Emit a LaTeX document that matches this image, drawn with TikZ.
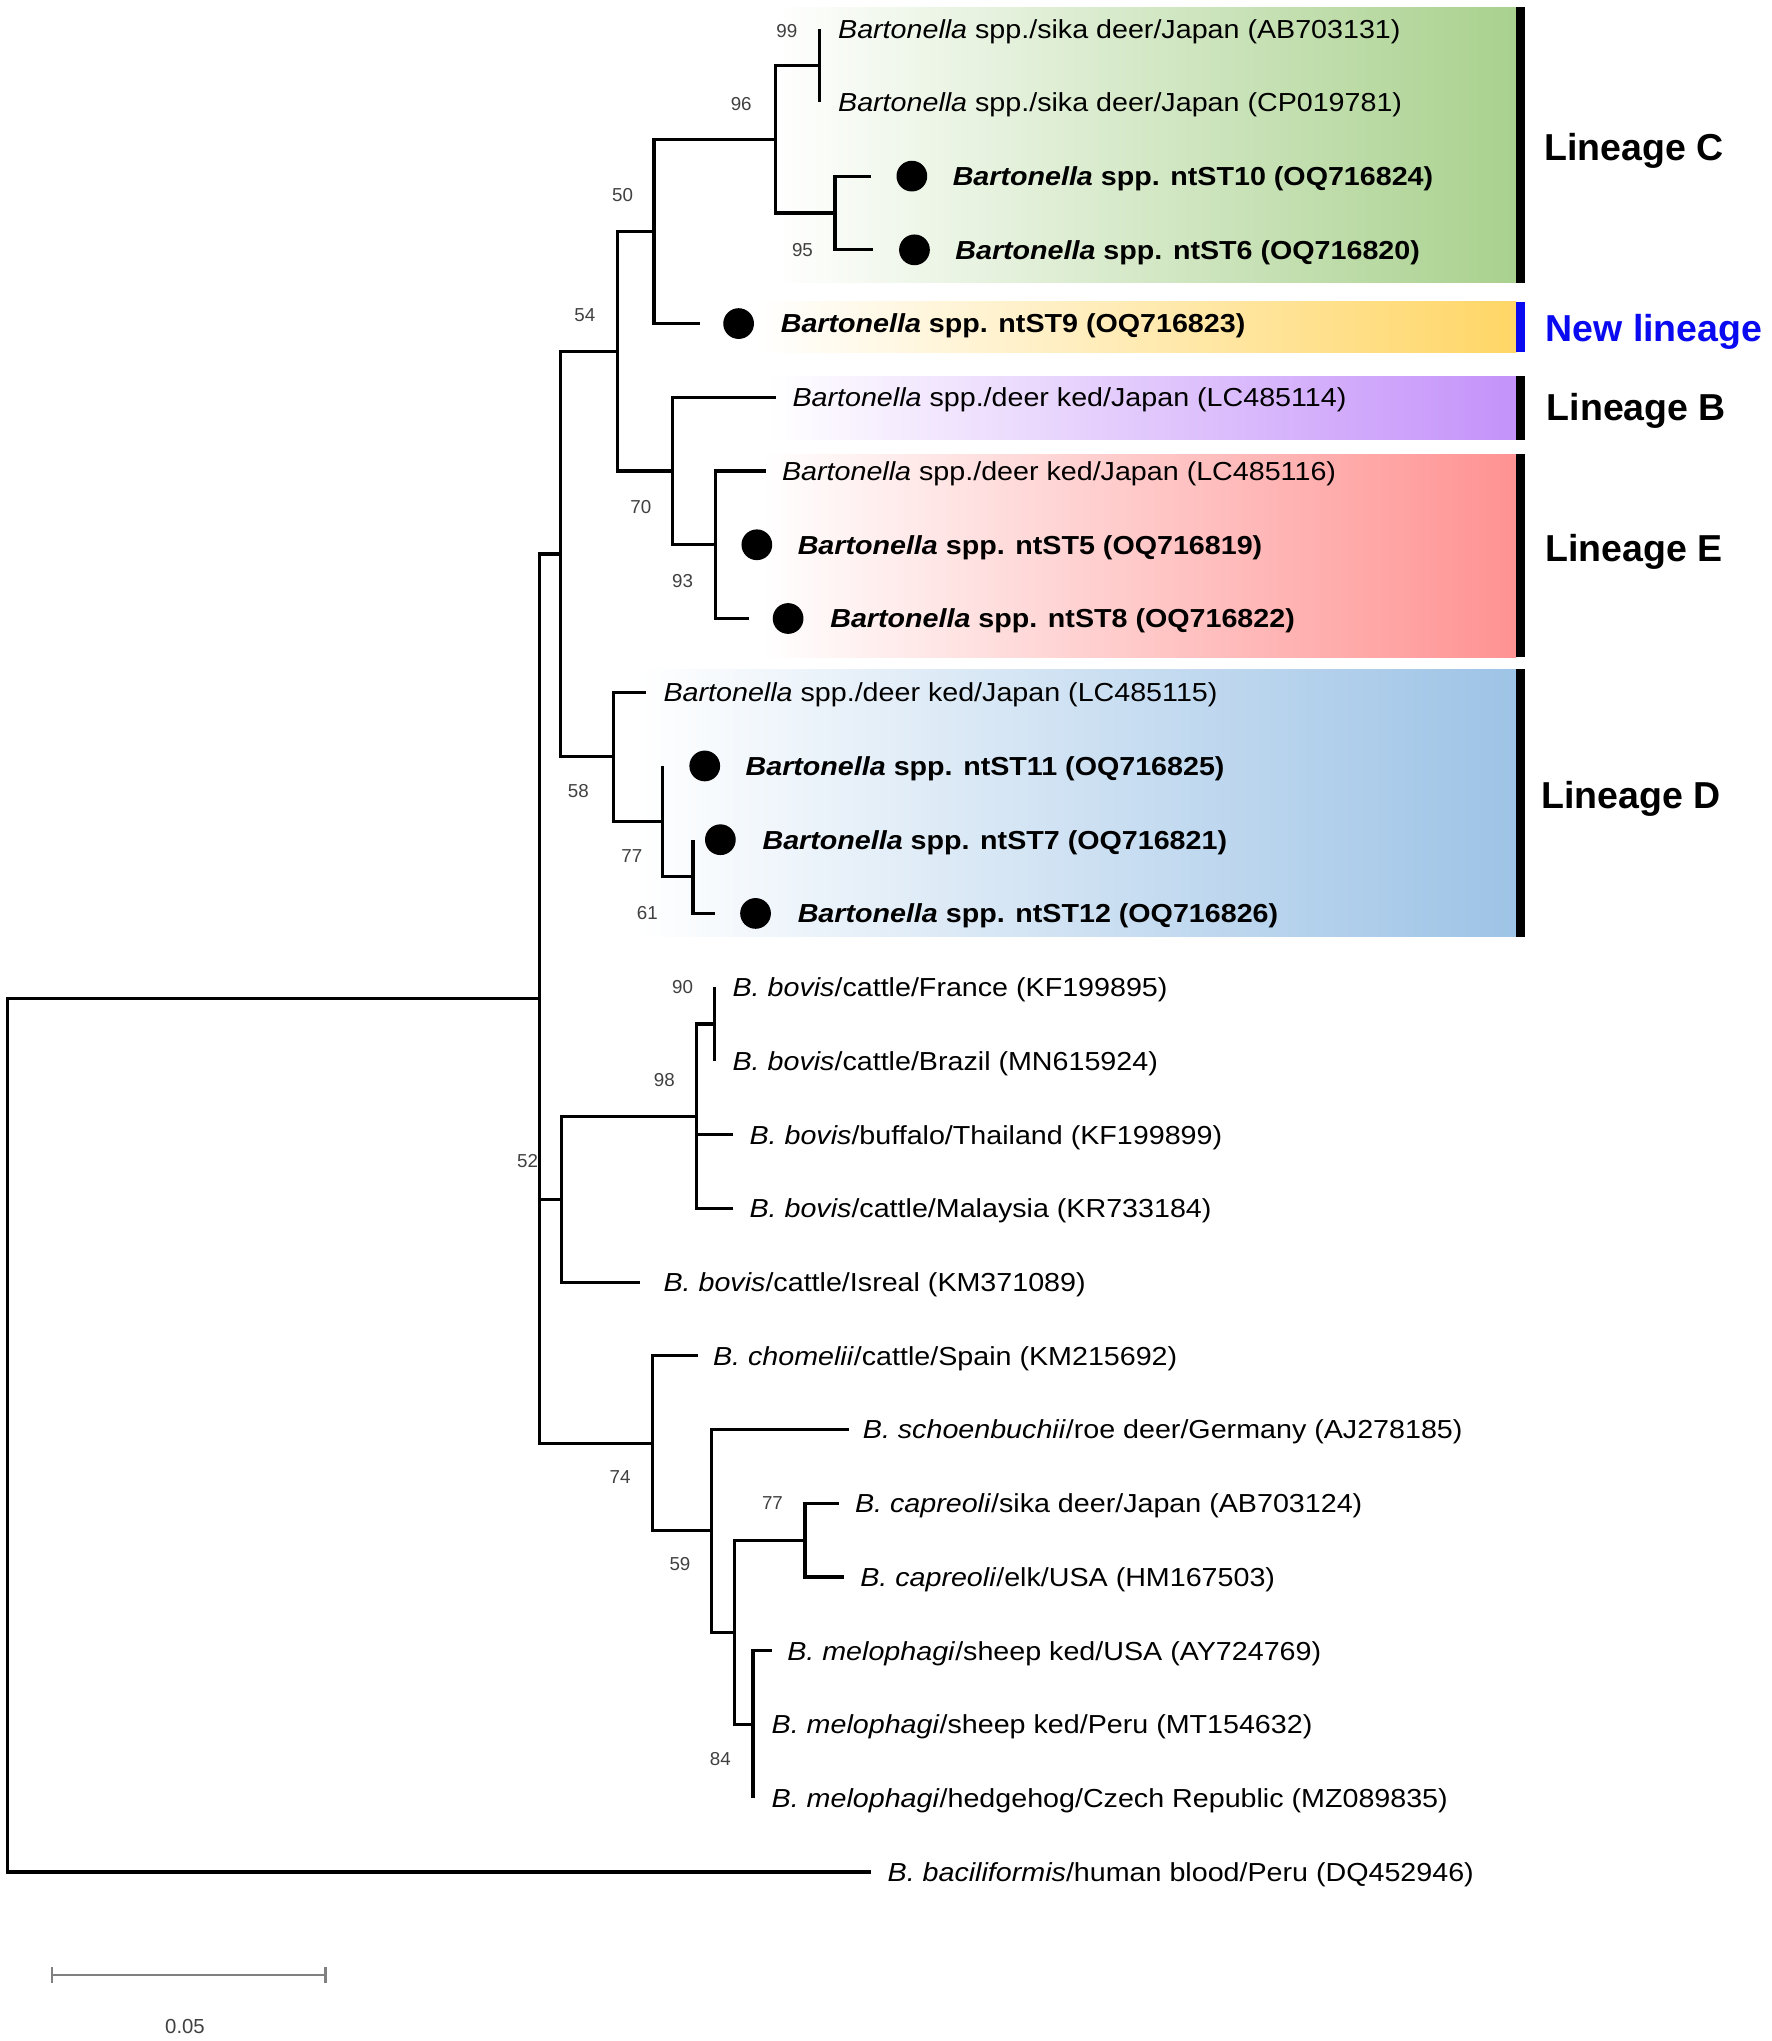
\documentclass[tikz,border=0pt]{standalone}
\usepackage{fontspec}
\setmainfont{Liberation Sans}
\newfontfamily\taxfont[FakeStretch=1.1]{Liberation Sans}
\definecolor{cC}{RGB}{169,209,142}
\definecolor{cN}{RGB}{255,214,102}
\definecolor{cB}{RGB}{196,146,250}
\definecolor{cE}{RGB}{255,146,146}
\definecolor{cD}{RGB}{157,195,230}
\definecolor{nblue}{RGB}{10,10,240}
\newcommand{\Bsp}{\textit{Bartonella}}
\begin{document}
\begin{tikzpicture}[x=0.5pt,y=-0.5pt,
  br/.style={line width=1.2pt, black},
  tax/.style={anchor=base west, inner sep=0pt, font=\taxfont\fontsize{10}{12}\selectfont},
  boot/.style={inner sep=0pt, font=\fontsize{7.2}{8}\selectfont, text=black!75},
  dot/.style={circle, fill=black, minimum size=11.8pt, inner sep=0pt},
  lin/.style={anchor=base west, inner sep=0pt, font=\bfseries\fontsize{14.4}{16}\selectfont},
  sbar/.style={line width=0.9pt, black!50}
]
\useasboundingbox (0,0) rectangle (1360.2,1566.8);

% ---------- coloured lineage boxes ----------
\shade[left color=white, right color=cC] (595,5.5) rectangle (1164,217);
\fill[black] (1164,5.5) rectangle (1171,217);
\shade[left color=white, right color=cN] (580,231.8) rectangle (1164,270.3);
\fill[nblue] (1164,231.8) rectangle (1171,270.3);
\shade[left color=white, right color=cB] (590,289) rectangle (1164,337.5);
\fill[black] (1164,289) rectangle (1171,337.5);
\shade[left color=white, right color=cE] (585,348.8) rectangle (1164,504.4);
\fill[black] (1164,348.8) rectangle (1171,504.4);
\shade[left color=white, right color=cD] (490,513.7) rectangle (1164,719);
\fill[black] (1164,513.7) rectangle (1171,719);

\node[lin] (lC) at (1185,123.3) {Lineage C};
\node[lin, text=nblue] (lN) at (1186,261.8) {New lineage};
\node[lin] (lB) at (1187,322.9) {Lineage B};
\node[lin] (lE) at (1186,431) {Lineage E};
\node[lin] (lD) at (1183,620.3) {Lineage D};

% ---------- internal nodes ----------
\coordinate (root) at (6,1100);
\coordinate (A) at (414,766.7);
\coordinate (B) at (430,425.3);
\coordinate (n54) at (474,269.6);
\coordinate (n50) at (502,177.65);
\coordinate (n96) at (595,106.9);
\coordinate (n99) at (629,50.3);
\coordinate (n95) at (641,163.5);
\coordinate (n70) at (516.5,361.6);
\coordinate (n93) at (549,418.2);
\coordinate (n58) at (471,580.9);
\coordinate (n77) at (508.4,630.45);
\coordinate (n61) at (532,672.9);
\coordinate (n52) at (431,920.5);
\coordinate (n98) at (534.6,856.85);
\coordinate (n90) at (548.7,786.1);
\coordinate (n74) at (501,1108);
\coordinate (n59) at (546.5,1175.2);
\coordinate (n84p) at (564,1253);
\coordinate (ncap) at (618,1182.3);
\coordinate (nmel) at (578,1323.8);

% ---------- tips ----------
\coordinate (e1) at (629,22);
\coordinate (e2) at (629,78.6);
\coordinate (e3) at (669,135.2);
\coordinate (e4) at (670,191.8);
\coordinate (e5) at (537,248.4);
\coordinate (e6) at (596,305);
\coordinate (e7) at (588,361.6);
\coordinate (e8) at (549,418.2);
\coordinate (e9) at (575,474.8);
\coordinate (e10) at (496,531.4);
\coordinate (e11) at (508.4,588);
\coordinate (e12) at (532,644.6);
\coordinate (e13) at (549,701.2);
\coordinate (e14) at (548.7,757.8);
\coordinate (e15) at (548.7,814.4);
\coordinate (e16) at (563,871);
\coordinate (e17) at (563,927.6);
\coordinate (e18) at (491.4,984.2);
\coordinate (e19) at (535.5,1040.8);
\coordinate (e20) at (651.4,1097.4);
\coordinate (e21) at (644,1154);
\coordinate (e22) at (648,1210.6);
\coordinate (e23) at (592.8,1267.2);
\coordinate (e24) at (578,1323.8);
\coordinate (e25) at (578,1380.4);
\coordinate (e26) at (669,1437);

% ---------- branches ----------
\draw[br] (root) |- (A);
\draw[br] (root) |- (e26);
\draw[br] (A) |- (B);
\draw[br] (A) |- (n52);
\draw[br] (A) |- (n74);
\draw[br] (B) |- (n54);
\draw[br] (B) |- (n58);
\draw[br] (n54) |- (n50);
\draw[br] (n54) |- (n70);
\draw[br] (n50) |- (n96);
\draw[br] (n50) |- (e5);
\draw[br] (n96) |- (n99);
\draw[br] (n96) |- (n95);
\draw[br] (n99) |- (e1);
\draw[br] (n99) |- (e2);
\draw[br] (n95) |- (e3);
\draw[br] (n95) |- (e4);
\draw[br] (n70) |- (e6);
\draw[br] (n70) |- (n93);
\draw[br] (n93) |- (e7);
\draw[br] (n93) |- (e8);
\draw[br] (n93) |- (e9);
\draw[br] (n58) |- (e10);
\draw[br] (n58) |- (n77);
\draw[br] (n77) |- (e11);
\draw[br] (n77) |- (n61);
\draw[br] (n61) |- (e12);
\draw[br] (n61) |- (e13);
\draw[br] (n52) |- (n98);
\draw[br] (n52) |- (e18);
\draw[br] (n98) |- (n90);
\draw[br] (n98) |- (e16);
\draw[br] (n98) |- (e17);
\draw[br] (n90) |- (e14);
\draw[br] (n90) |- (e15);
\draw[br] (n74) |- (e19);
\draw[br] (n74) |- (n59);
\draw[br] (n59) |- (e20);
\draw[br] (n59) |- (n84p);
\draw[br] (n84p) |- (ncap);
\draw[br] (n84p) |- (nmel);
\draw[br] (ncap) |- (e21);
\draw[br] (ncap) |- (e22);
\draw[br] (nmel) |- (e23);
\draw[br] (nmel) |- (e24);
\draw[br] (nmel) |- (e25);

% ---------- dots ----------
\node[dot] (d3) at (700,135.2) {};
\node[dot] (d4) at (702,191.8) {};
\node[dot] (d5) at (567,248.4) {};
\node[dot] (d8) at (581,418.2) {};
\node[dot] (d9) at (605,474.8) {};
\node[dot] (d11) at (541,588) {};
\node[dot] (d12) at (553,644.6) {};
\node[dot] (d13) at (580,701.2) {};

% ---------- taxon labels ----------
\node[tax] (t1) at (643,29.2) {\Bsp{} spp./sika deer/Japan (AB703131)};
\node[tax] (t2) at (643,85.8) {\Bsp{} spp./sika deer/Japan (CP019781)};
\node[tax] (t3) at (731,142.4) {\textbf{\Bsp{} spp. ntST10 (OQ716824)}};
\node[tax] (t4) at (733,199) {\textbf{\Bsp{} spp. ntST6 (OQ716820)}};
\node[tax] (t5) at (599,255.6) {\textbf{\Bsp{} spp. ntST9 (OQ716823)}};
\node[tax] (t6) at (608,312.2) {\Bsp{} spp./deer ked/Japan (LC485114)};
\node[tax] (t7) at (600,368.8) {\Bsp{} spp./deer ked/Japan (LC485116)};
\node[tax] (t8) at (612,425.4) {\textbf{\Bsp{} spp. ntST5 (OQ716819)}};
\node[tax] (t9) at (637,482) {\textbf{\Bsp{} spp. ntST8 (OQ716822)}};
\node[tax] (t10) at (509,538.6) {\Bsp{} spp./deer ked/Japan (LC485115)};
\node[tax] (t11) at (572,595.2) {\textbf{\Bsp{} spp. ntST11 (OQ716825)}};
\node[tax] (t12) at (585,651.8) {\textbf{\Bsp{} spp. ntST7 (OQ716821)}};
\node[tax] (t13) at (612,708.4) {\textbf{\Bsp{} spp. ntST12 (OQ716826)}};
\node[tax] (t14) at (562,765) {\textit{B. bovis}/cattle/France (KF199895)};
\node[tax] (t15) at (562,821.6) {\textit{B. bovis}/cattle/Brazil (MN615924)};
\node[tax] (t16) at (575,878.2) {\textit{B. bovis}/buffalo/Thailand (KF199899)};
\node[tax] (t17) at (575,934.8) {\textit{B. bovis}/cattle/Malaysia (KR733184)};
\node[tax] (t18) at (509,991.4) {\textit{B. bovis}/cattle/Isreal (KM371089)};
\node[tax] (t19) at (547,1048) {\textit{B. chomelii}/cattle/Spain (KM215692)};
\node[tax] (t20) at (662,1104.6) {\textit{B. schoenbuchii}/roe deer/Germany (AJ278185)};
\node[tax] (t21) at (656,1161.2) {\textit{B. capreoli}/sika deer/Japan (AB703124)};
\node[tax] (t22) at (660,1217.8) {\textit{B. capreoli}/elk/USA (HM167503)};
\node[tax] (t23) at (604,1274.4) {\textit{B. melophagi}/sheep ked/USA (AY724769)};
\node[tax] (t24) at (592,1331) {\textit{B. melophagi}/sheep ked/Peru (MT154632)};
\node[tax] (t25) at (592,1387.6) {\textit{B. melophagi}/hedgehog/Czech Republic (MZ089835)};
\node[tax] (t26) at (681,1444.2) {\textit{B. baciliformis}/human blood/Peru (DQ452946)};

% ---------- bootstrap values ----------
\node[boot] (b99) at (604,24) {99};
\node[boot] (b96) at (569,80) {96};
\node[boot] (b95) at (616,192) {95};
\node[boot] (b50) at (478,150) {50};
\node[boot] (b54) at (449,242) {54};
\node[boot] (b70) at (492,389) {70};
\node[boot] (b93) at (524,446) {93};
\node[boot] (b58) at (444,607) {58};
\node[boot] (b77a) at (485,657) {77};
\node[boot] (b61) at (497,701) {61};
\node[boot] (b90) at (524,758) {90};
\node[boot] (b98) at (510,829) {98};
\node[boot] (b52) at (405,891) {52};
\node[boot] (b74) at (476,1134) {74};
\node[boot] (b59) at (522,1201) {59};
\node[boot] (b77b) at (593,1154) {77};
\node[boot] (b84) at (553,1350) {84};

% ---------- scale bar ----------
\coordinate (sl) at (40,1516);
\coordinate (sr) at (250,1516);
\draw[sbar] (sl) -- (sr);
\draw[sbar] ([yshift=3pt]sl) -- ([yshift=-3pt]sl);
\draw[sbar] ([yshift=3pt]sr) -- ([yshift=-3pt]sr);
\node[boot, font=\fontsize{7.8}{9}\selectfont] (scl) at (142,1556) {0.05};
\end{tikzpicture}
\end{document}
